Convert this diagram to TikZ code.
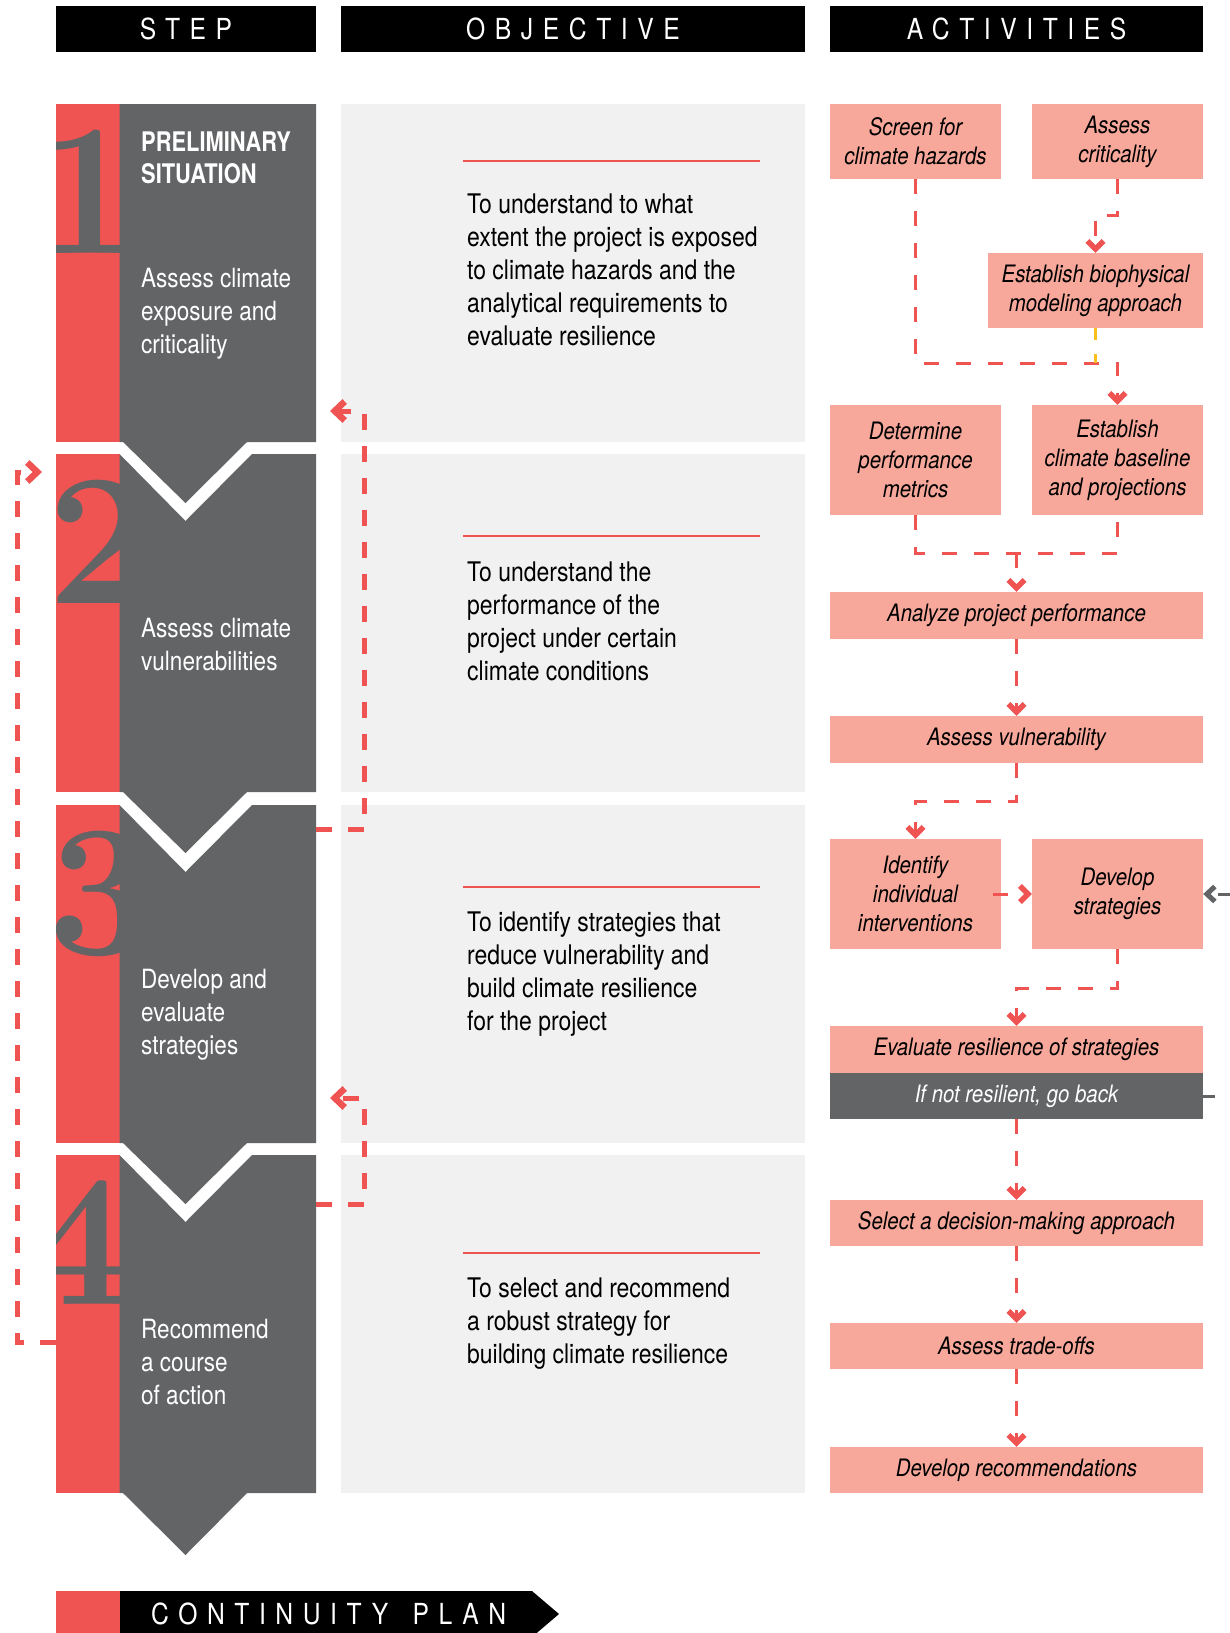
\documentclass[tikz,border=0pt]{standalone}
\usepackage{fontspec}
\usetikzlibrary{arrows.meta}
\newfontfamily\hv{TeX Gyre Heros}[FakeStretch=0.85]
\newfontfamily\hvb{TeX Gyre Heros}[FakeStretch=0.81]
\newfontfamily\hvsp{TeX Gyre Heros}[FakeStretch=0.85,LetterSpace=33]
\definecolor{cred}{RGB}{239,83,82}
\definecolor{cpink}{RGB}{247,168,154}
\definecolor{cgrey}{RGB}{99,100,102}
\definecolor{clight}{RGB}{241,241,241}
\definecolor{cyel}{RGB}{250,190,30}
\tikzset{
  hdr/.style={fill=black,text=white,inner sep=0pt,minimum height=46pt,font=\hvsp\fontsize{29}{29}\selectfont},
  act/.style={fill=cpink,inner sep=0pt,align=center,font=\hv\itshape\fontsize{24}{29}\selectfont},
  actdark/.style={act,fill=cgrey,text=white},
  stxt/.style={anchor=base west,inner sep=0pt,text=white,font=\hv\fontsize{26.5}{33}\selectfont},
  sbold/.style={anchor=base west,inner sep=0pt,text=white,font=\hvb\bfseries\fontsize{27}{32}\selectfont},
  otxt/.style={anchor=base west,inner sep=0pt,text=black,font=\hv\fontsize{27}{33}\selectfont},
  digit/.style={anchor=base,inner sep=0pt,text=cgrey,font=\rmfamily\bfseries\fontsize{188}{188}\selectfont},
  flow/.style={draw=cred,line width=3pt,dash pattern=on 15pt off 17pt},
  yel/.style={draw=cyel,line width=3pt,dash pattern=on 12pt off 14pt},
  flowarrow/.style={-{Straight Barb[length=8pt,width=16pt,line width=5.5pt,sharp]}},
  loopl/.style={draw=cred,line width=5pt,dash pattern=on 16pt off 16pt,-{Straight Barb[length=10pt,width=19pt,line width=6.5pt,sharp]}},
  back/.style={draw=cgrey,line width=3pt,dash pattern=on 12pt off 21pt,-{Straight Barb[length=8pt,width=15pt,line width=5pt,sharp]}},
  objline/.style={draw=cred,line width=2.5pt},
}
\begin{document}
\begin{tikzpicture}[x=1pt,y=-1pt]
\useasboundingbox (0,0) rectangle (1230,1633);
\fill[white] (0,0) rectangle (1230,1633);

% headers
\node[hdr,minimum width=260pt] (hstep) at (186,29) {STEP};
\node[hdr,minimum width=464pt] (hobj) at (573,29) {OBJECTIVE};
\node[hdr,minimum width=373pt] (hact) at (1016.5,29) {ACTIVITIES};

% step blocks: red strip, objective box, digit
\foreach \t/\n/\dx in {104/1/88,454/2/100,805/3/100,1155/4/78} {
  \fill[cred] (56,\t) rectangle (119.5,\t+338);
  \fill[clight] (341,\t) rectangle (805,\t+338);
  \begin{scope}
    \clip (56,\t) rectangle (119.5,\t+338);
    \node[digit] (d\n) at (\dx,\t+149) {\n};
  \end{scope}
}

% grey step columns with chevrons
\fill[cgrey] (119.5,104) -- (316,104) -- (316,442) -- (247,442) -- (185.5,503) -- (123,442) -- (119.5,442) -- cycle;
\foreach \t in {454,805} {
  \fill[cgrey] (119.5,\t) -- (185.5,\t+67) -- (252,\t) -- (316,\t) -- (316,\t+338) -- (247,\t+338) -- (185.5,\t+399) -- (123,\t+338) -- (119.5,\t+338) -- cycle;
}
\fill[cgrey] (119.5,1155) -- (185.5,1222) -- (252,1155) -- (316,1155) -- (316,1493) -- (247,1493) -- (185.5,1555) -- (123,1493) -- (119.5,1493) -- cycle;

% step texts
\node[sbold] (s1a) at (141,151) {PRELIMINARY};
\node[sbold] (s1b) at (141,183) {SITUATION};
\foreach \y/\s [count=\i] in {287/Assess climate,320/exposure and,353/criticality}
  \node[stxt] (s1-\i) at (141,\y) {\s};
\foreach \y/\s [count=\i] in {637/Assess climate,670/vulnerabilities}
  \node[stxt] (s2-\i) at (141,\y) {\s};
\foreach \y/\s [count=\i] in {988/Develop and,1021/evaluate,1054/strategies}
  \node[stxt] (s3-\i) at (141,\y) {\s};
\foreach \y/\s [count=\i] in {1338/Recommend,1371/a course,1404/of action}
  \node[stxt] (s4-\i) at (141,\y) {\s};

% objective texts
\draw[objline] (463,161) -- (760,161);
\foreach \y/\s [count=\i] in {213/To understand to what,246/extent the project is exposed,279/to climate hazards and the,312/analytical requirements to,345/evaluate resilience}
  \node[otxt] (o1-\i) at (467,\y) {\s};
\draw[objline] (463,536) -- (760,536);
\foreach \y/\s [count=\i] in {581/To understand the,614/performance of the,647/project under certain,680/climate conditions}
  \node[otxt] (o2-\i) at (467,\y) {\s};
\draw[objline] (463,887) -- (760,887);
\foreach \y/\s [count=\i] in {931/To identify strategies that,964/reduce vulnerability and,997/build climate resilience,1030/for the project}
  \node[otxt] (o3-\i) at (467,\y) {\s};
\draw[objline] (463,1253) -- (760,1253);
\foreach \y/\s [count=\i] in {1297/To select and recommend,1330/a robust strategy for,1363/building climate resilience}
  \node[otxt] (o4-\i) at (467,\y) {\s};

% activities
\node[act,minimum width=171pt,minimum height=75pt] (screen) at (915.5,141.5) {Screen for\\climate hazards};
\node[act,minimum width=171pt,minimum height=75pt] (crit) at (1117.5,141.5) {Assess\\criticality};
\node[act,minimum width=215pt,minimum height=75pt] (bio) at (1095.5,290.5) {Establish biophysical\\modeling approach};
\node[act,minimum width=171pt,minimum height=110pt] (det) at (915.5,460) {Determine\\performance\\metrics};
\node[act,minimum width=171pt,minimum height=110pt] (estclim) at (1117.5,460) {Establish\\climate baseline\\and projections};
\node[act,minimum width=373pt,minimum height=47pt] (analyze) at (1016.5,615.5) {Analyze project performance};
\node[act,minimum width=373pt,minimum height=47pt] (assessv) at (1016.5,739.5) {Assess vulnerability};
\node[act,minimum width=171pt,minimum height=110pt] (ident) at (915.5,894) {Identify\\individual\\interventions};
\node[act,minimum width=171pt,minimum height=110pt] (dev) at (1117.5,894) {Develop\\strategies};
\node[act,minimum width=373pt,minimum height=47pt] (evalr) at (1016.5,1049.5) {Evaluate resilience of strategies};
\node[actdark,minimum width=373pt,minimum height=46pt] (goback) at (1016.5,1096) {If not resilient, go back};
\node[act,minimum width=373pt,minimum height=46pt] (select) at (1016.5,1223) {Select a decision-making approach};
\node[act,minimum width=373pt,minimum height=46pt] (trade) at (1016.5,1346) {Assess trade-offs};
\node[act,minimum width=373pt,minimum height=46pt] (recs) at (1016.5,1470) {Develop recommendations};

% activity connectors
\draw[flow,flowarrow] (screen.south) -- ++(0,184) -| (estclim.north);
\draw[yel] (bio.south) -- ++(0,35);
\draw[flow,flowarrow] (crit.south) -- ++(0,36) -| (bio.north);
\coordinate (jB) at (1016.5,553);
\draw[flow] (det.south) |- (jB) -| (estclim.south);
\draw[flow,flowarrow] (jB) -- (analyze.north);
\draw[flow,flowarrow] (analyze.south) -- (assessv.north);
\draw[flow,flowarrow] (assessv.south) -- ++(0,38) -| (ident.north);
\draw[flow,flowarrow] ([xshift=-8pt]ident.east) -- (dev.west);
\draw[flow,flowarrow] (dev.south) -- ++(0,39) -| (evalr.north);
\draw[flow,flowarrow] (goback.south) -- (select.north);
\draw[flow,flowarrow] (select.south) -- (trade.north);
\draw[flow,flowarrow] (trade.south) -- (recs.north);
\draw[back] (goback.east) -- ++(28,0) |- (dev.east);

% feedback loops
\coordinate (la1) at (316,829); \coordinate (lc1) at (364.5,411); \coordinate (le1) at (330,411);
\draw[loopl] (la1) -| (lc1) -- (le1);
\coordinate (la2) at (316,1204); \coordinate (lc2) at (364.5,1098); \coordinate (le2) at (330,1098);
\draw[loopl] (la2) -| (lc2) -- (le2);
\coordinate (la3) at (56,1342); \coordinate (lc3) at (17.5,472); \coordinate (le3) at (42,472);
\draw[loopl] (la3) -| (lc3) -- (le3);

% continuity plan bar
\fill[cred] (56,1591) rectangle (120,1640);
\fill[black] (120,1591) -- (532,1591) -- (559,1614) -- (532,1637) -- (120,1637) -- cycle;
\node[anchor=west,text=white,inner sep=0pt,font=\hvsp\fontsize{29}{29}\selectfont] (cont) at (151,1614) {CONTINUITY\hspace{8pt} PLAN};
\end{tikzpicture}
\end{document}
